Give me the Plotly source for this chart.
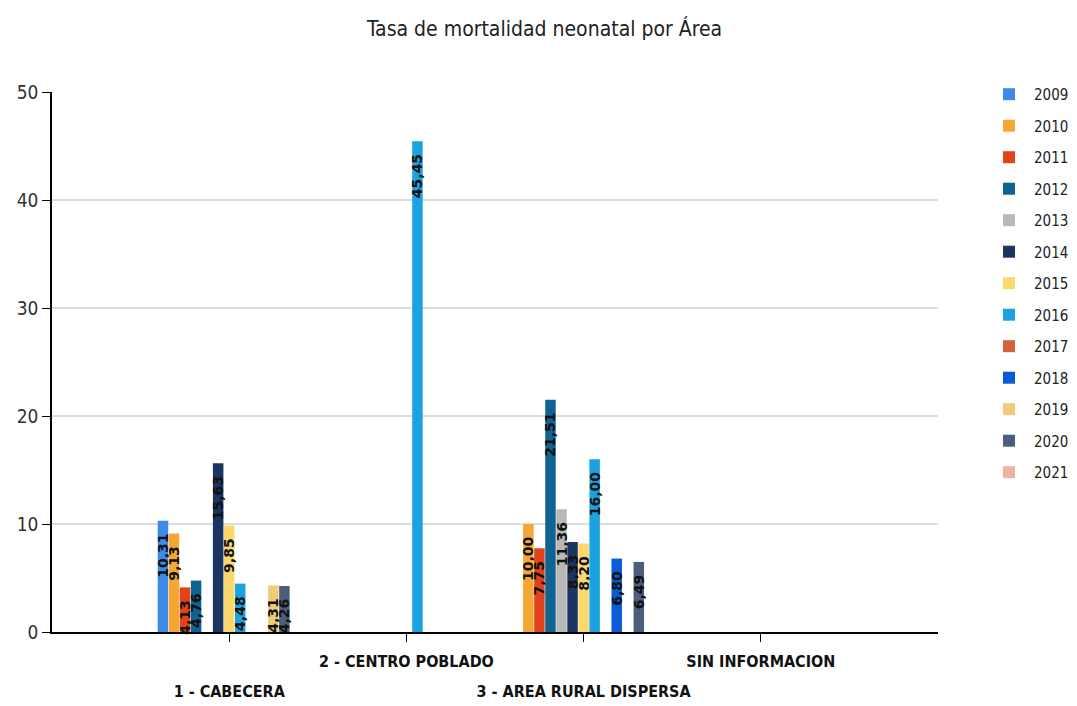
import plotly.graph_objects as go

categories = ["1 - CABECERA", "2 - CENTRO POBLADO", "3 - AREA RURAL DISPERSA", "SIN INFORMACION"]
years = ["2009", "2010", "2011", "2012", "2013", "2014", "2015", "2016", "2017", "2018", "2019", "2020", "2021"]

# values per year, in order of categories (None = no data)
v2009 = [10.31, None, None, None]
v2010 = [9.13, None, 10.00, None]
v2011 = [4.13, None, 7.75, None]
v2012 = [4.76, None, 21.51, None]
v2013 = [None, None, 11.36, None]
v2014 = [15.63, None, 8.33, None]
v2015 = [9.85, None, 8.20, None]
v2016 = [4.48, 45.45, 16.00, None]
v2017 = [None, None, None, None]
v2018 = [None, None, 6.80, None]
v2019 = [4.31, None, None, None]
v2020 = [4.26, None, 6.49, None]
v2021 = [None, None, None, None]

series = [v2009, v2010, v2011, v2012, v2013, v2014, v2015, v2016, v2017, v2018, v2019, v2020, v2021]
colors = ["#3D8BE8", "#F5A733", "#E0431A", "#0E6392", "#B8B8B8", "#1C3462", "#FAD86E",
          "#1AA3E0", "#D2643C", "#0A5BD8", "#EFCB7C", "#4C5E7E", "#EDB2A2"]

xpos = [1, 2, 3, 4]
narrow = "DejaVu Sans Condensed, Liberation Sans Narrow, Roboto Condensed, Roboto, sans-serif"

fig = go.Figure()
for yr, vals, col in zip(years, series, colors):
    txt = [("" if v is None else f"{v:.2f}".replace(".", ",") + "\u00a0\u00a0") for v in vals]
    fig.add_trace(go.Bar(
        x=xpos, y=vals, name=yr, marker=dict(color=col, line=dict(width=0)),
        text=txt, textposition="inside", insidetextanchor="end", textangle=-90,
        textfont=dict(family="DejaVu Sans, Verdana, sans-serif", size=14, color="#111111", weight="bold"),
        constraintext="none", cliponaxis=False, legendgroup=yr,
    ))

# invisible helper trace so the second (label-row) x axis is drawn
fig.add_trace(go.Scatter(x=xpos, y=[None] * len(xpos), xaxis="x2", yaxis="y",
                         showlegend=False, hoverinfo="skip", mode="markers"))

row1 = [("" if i % 2 == 0 else c) for i, c in enumerate(categories)]
row2 = [(c if i % 2 == 0 else "") for i, c in enumerate(categories)]

fig.update_layout(
    width=1069, height=698,
    margin=dict(l=44, r=139, t=84, b=74),
    paper_bgcolor="white", plot_bgcolor="white",
    barmode="group", bargap=0.19, bargroupgap=0.05,
    uniformtext=dict(minsize=14, mode="show"),
    title=dict(text="Tasa de mortalidad neonatal por Área", x=0.502, xref="container", xanchor="center",
               y=0.971, yref="container", yanchor="middle",
               font=dict(family=narrow, size=21, color="#222222")),
    legend=dict(x=0.913, xref="container", y=1.026, xanchor="left", yanchor="top",
                tracegroupgap=9, maxheight=1,
                font=dict(family=narrow, size=15, color="#222222"), itemwidth=40),
    showlegend=True,
    xaxis=dict(
        range=[0, 5], tickvals=xpos, ticktext=row1, tickangle=0, automargin=False,
        showline=True, linecolor="#000000", linewidth=1.5, ticks="outside", ticklen=8, tickcolor="#000000",
        showgrid=False, zeroline=False, ticklabelstandoff=6,
        tickfont=dict(family=narrow, size=16, color="#111111", weight="bold"),
    ),
    xaxis2=dict(
        overlaying="x", matches="x", anchor="y", side="bottom",
        tickvals=xpos, ticktext=row2, tickangle=0, automargin=False,
        showline=False, ticks="outside", ticklen=8, tickcolor="rgba(0,0,0,0)",
        showgrid=False, zeroline=False, ticklabelstandoff=37,
        tickfont=dict(family=narrow, size=16, color="#111111", weight="bold"),
    ),
    yaxis=dict(
        range=[0, 50], tickvals=[0, 10, 20, 30, 40, 50], automargin=False,
        showline=True, linecolor="#000000", linewidth=1.5, ticks="outside", ticklen=8, tickcolor="#000000",
        showgrid=True, gridcolor="#DDDDDD", gridwidth=1.5, zeroline=False,
        tickfont=dict(family=narrow, size=19, color="#333333"),
    ),
)

fig.write_html("out.html")
